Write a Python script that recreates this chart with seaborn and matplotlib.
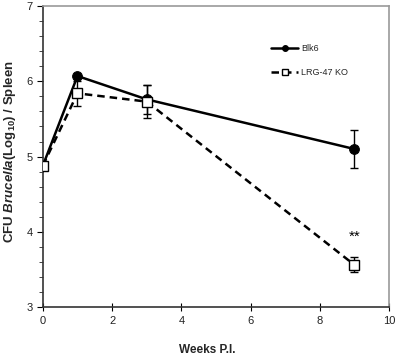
import pandas as pd
import numpy as np
import matplotlib
matplotlib.use("Agg")
import matplotlib.pyplot as plt
import seaborn as sns

# Values
weeks = [0, 1, 3, 9]
blk6_mean = [4.88, 6.07, 5.76, 5.10]
blk6_err = [0.0, 0.0, 0.19, 0.25]
ko_mean = [4.88, 5.84, 5.73, 3.56]
ko_err = [0.0, 0.17, 0.22, 0.10]
series_names = ["Blk6", "LRG-47 KO"]

df = pd.DataFrame({
    "Weeks": weeks * 2,
    "CFU": blk6_mean + ko_mean,
    "err": blk6_err + ko_err,
    "Group": [series_names[0]] * 4 + [series_names[1]] * 4,
})

sns.set_theme(style="ticks")
plt.rcParams["font.family"] = ["Liberation Sans", "DejaVu Sans"]
plt.rcParams["mathtext.fontset"] = "custom"
plt.rcParams["mathtext.rm"] = "Liberation Sans"
plt.rcParams["mathtext.it"] = "Liberation Sans:italic:bold"
plt.rcParams["mathtext.bf"] = "Liberation Sans:bold"

fig = plt.figure(figsize=(3.97, 3.55), dpi=100)
ax = fig.add_axes([0.108, 0.135, 0.872, 0.848])

# error bars first so markers sit on top
for name, sub in df.groupby("Group", sort=False):
    ax.errorbar(sub["Weeks"], sub["CFU"], yerr=sub["err"], fmt="none",
                ecolor="black", elinewidth=1, capsize=3, capthick=1, zorder=2)

sns.lineplot(data=df[df["Group"] == "Blk6"], x="Weeks", y="CFU", ax=ax,
             color="black", linewidth=1.8, marker="o", markersize=7,
             markerfacecolor="black", markeredgecolor="black",
             label="Blk6", zorder=3)
sns.lineplot(data=df[df["Group"] == "LRG-47 KO"], x="Weeks", y="CFU", ax=ax,
             color="black", linewidth=1.8, linestyle=(0, (3, 2)), marker="s",
             markersize=7, markerfacecolor="white", markeredgecolor="black",
             markeredgewidth=1, label="LRG-47 KO", zorder=4)

ax.text(9, 3.93, "**", ha="center", va="center", fontsize=11, color="black")

ax.set_xlim(0, 10)
ax.set_ylim(3, 7)
ax.set_xticks(np.arange(0, 11, 2))
ax.set_yticks([3, 4, 5, 6, 7])
ax.set_yticks(np.arange(3, 7.01, 0.2), minor=True)
ax.tick_params(axis="both", labelsize=8, length=4, width=0.8, colors="black",
               labelcolor="#222222")
ax.tick_params(axis="y", which="minor", length=3, width=0.6)
ax.tick_params(axis="x", direction="inout", length=6)

for side in ["left", "bottom"]:
    ax.spines[side].set_color("#333333")
    ax.spines[side].set_linewidth(1.2)
for side in ["top", "right"]:
    ax.spines[side].set_visible(True)
    ax.spines[side].set_color("#999999")
    ax.spines[side].set_linewidth(1.2)

ax.set_xlabel("Weeks P.I.", fontsize=8.5, fontweight="bold")
ax.xaxis.set_label_coords(0.474, -0.123)
ax.set_ylabel(r"CFU $\mathit{Brucella}$(Log$_{\mathbf{10}}$) / Spleen",
              fontsize=9.5, fontweight="bold")
ax.yaxis.set_label_coords(-0.072, 0.518)

leg = ax.legend(loc="upper right", bbox_to_anchor=(0.905, 0.9), frameon=False,
                fontsize=6.5, handlelength=3, markerscale=0.6, labelspacing=1.6,
                handletextpad=0.3)

fig.savefig("out.png", dpi=100)
